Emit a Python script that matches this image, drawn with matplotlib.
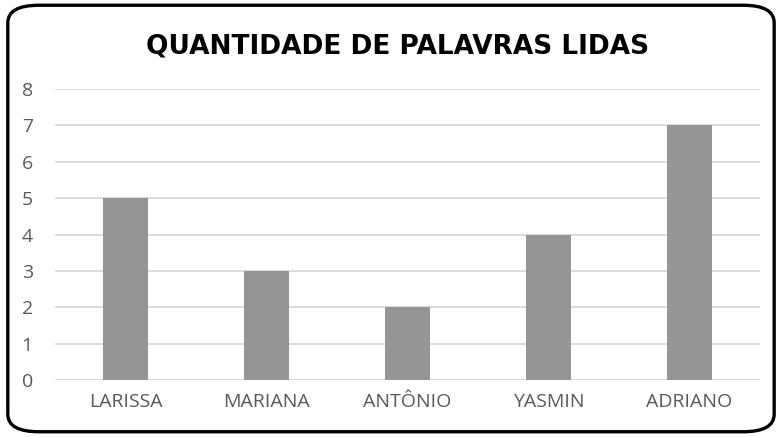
import matplotlib.pyplot as plt
from matplotlib.patches import FancyBboxPatch

# dados do grafico
nomes = ["LARISSA", "MARIANA", "ANTÔNIO", "YASMIN", "ADRIANO"]
palavras = [5, 3, 2, 4, 7]
ticks_y = [0, 1, 2, 3, 4, 5, 6, 7, 8]

fig = plt.figure(figsize=(7.82, 4.37), dpi=100)
ax = fig.add_axes([0.0703, 0.1304, 0.9017, 0.6659])

ax.bar(range(len(nomes)), palavras, width=0.32, color="#959595", zorder=3)

ax.set_xlim(-0.5, len(nomes) - 0.5)
ax.set_ylim(0, 8)
ax.set_yticks(ticks_y)
ax.set_xticks(range(len(nomes)))
ax.set_xticklabels(nomes)
ax.grid(axis="y", color="#d9d9d9", linewidth=1.3, zorder=0)
for s in ax.spines.values():
    s.set_visible(False)
ax.tick_params(length=0, labelsize=14, labelcolor="#595959", pad=9)
ax.tick_params(axis="y", pad=16)
for t in ax.get_xticklabels() + ax.get_yticklabels():
    t.set_family("Open Sans")

fig.text(0.508, 0.893, "QUANTIDADE DE PALAVRAS LIDAS", ha="center", va="center",
         fontsize=19, fontweight="heavy", family="DejaVu Sans")

# borda arredondada
borda = FancyBboxPatch((0.010, 0.012), 0.980, 0.976,
                       boxstyle="round,pad=0,rounding_size=0.04",
                       transform=fig.transFigure, fill=False,
                       edgecolor="black", linewidth=2.4)
fig.patches.append(borda)

fig.savefig("out.png", dpi=100)
